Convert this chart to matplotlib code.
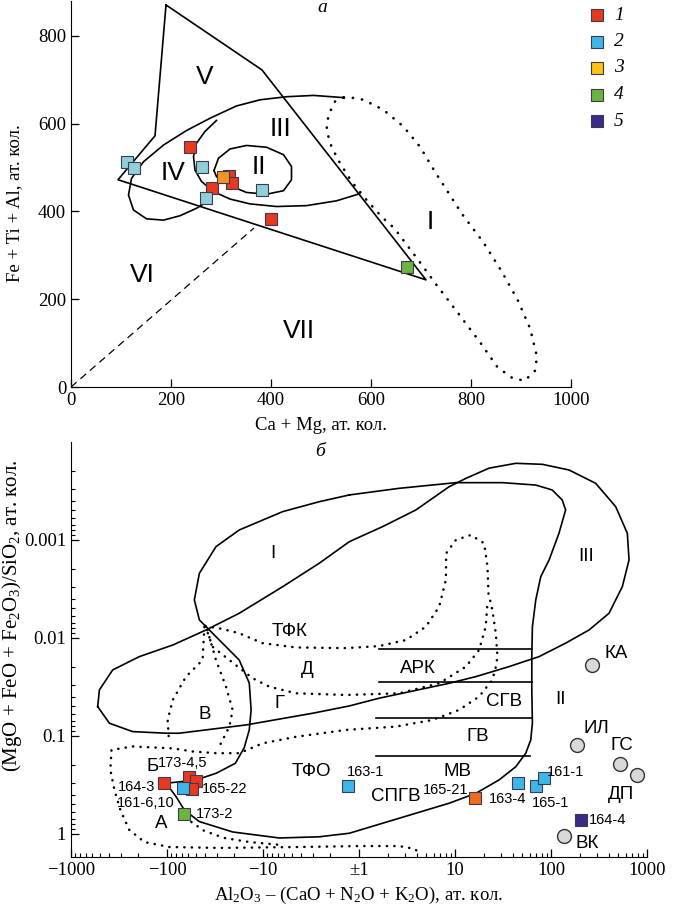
"""
Two classification diagrams: (a) Ca+Mg vs Fe+Ti+Al, (б) module diagram with sample points.
"""
#%% ------------------------------- ###
###           0. Setup              ###
### ------------------------------- ###

import numpy as np
import matplotlib
matplotlib.use('Agg')
import matplotlib.pyplot as plt
from matplotlib.ticker import FixedLocator, NullFormatter

plt.rcParams['font.family'] = ['Liberation Serif', 'DejaVu Serif']
plt.rcParams['mathtext.fontset'] = 'custom'
plt.rcParams['mathtext.rm'] = 'Liberation Serif'
plt.rcParams['mathtext.it'] = 'Liberation Serif:italic'

SANS = ['Liberation Sans', 'DejaVu Sans']

#%% ------------------------------- ###
###           1. Data (a)           ###
### ------------------------------- ###

field_V_x = [190, 382, 710, 94, 168, 190]
field_V_y = [870, 722, 244, 472, 572, 870]

curveA_x = [545, 485, 431, 378, 331, 278, 231, 185, 145, 121, 115, 125, 151, 185, 218, 251, 278, 285]
curveA_y = [659, 664, 661, 654, 640, 612, 584, 551, 513, 475, 437, 403, 383, 380, 390, 407, 426, 445]

curveB_x = [291, 268, 251, 245, 248, 261, 285, 318, 358, 411, 471, 531, 577]
curveB_y = [607, 582, 555, 525, 494, 468, 445, 428, 417, 411, 413, 424, 440]

ellII_x = [286, 295, 318, 351, 391, 425, 441, 441, 425, 391, 351, 315, 291, 286]
ellII_y = [493, 521, 542, 550, 546, 529, 502, 472, 447, 439, 443, 460, 479, 493]

dotI_x = [545, 528, 515, 511, 521, 538, 561, 591, 621, 647, 690, 732, 775, 818, 853, 882, 907,
          928, 932, 918, 893, 861, 825, 782, 728, 698, 665, 625, 585, 551, 545]
dotI_y = [659, 650, 620, 585, 547, 510, 468, 426, 388, 361, 296, 231, 167, 102, 45, 21, 14,
          37, 69, 134, 199, 264, 329, 394, 490, 547, 593, 631, 654, 661, 659]

dash_x = [0, 366]
dash_y = [0, 362]

red_a_x = [238, 281, 315, 321, 399]
red_a_y = [547, 454, 481, 465, 383]
orange_a_x = [303]
orange_a_y = [479]
blue_a_x = [111, 125, 261, 269, 381]
blue_a_y = [513, 498, 500, 430, 449]
green_a_x = [672]
green_a_y = [274]

labels_a = ['V', 'III', 'II', 'IV', 'I', 'VI', 'VII']
labels_a_x = [268, 418, 376, 205, 718, 143, 456]
labels_a_y = [706, 587, 502, 488, 376, 256, 128]

#%% ------------------------------- ###
###           2. Data (б)           ###
### ------------------------------- ###

# solid field outlines
c1_x = [-1.26, 2.62, 10.2, 31.2, 69.4, 103, 131, 142, 121, 95.5, 78.2, 69.4, 64.0, 63.1, 63.1, 64.0,
        61.5, 54.6, 43.0, 28.8, 16.5, 8.69, 3.91, 1.76, -1.26, -2.60, -6.77, -20.7, -46.0, -66.1,
        -80.5, -102, -49.5, -30.6, -19.4, -15.7, -13.9, -13.3, -13.9, -17.7, -28.5, -46.0, -51.9,
        -46.0, -30.9, -17.7, -6.25, -2.60, -1.26]
c1_y = [3.47e-4, 2.97e-4, 2.60e-4, 2.60e-4, 2.75e-4, 3.09e-4, 3.91e-4, 4.94e-4, 8.55e-4, 1.60e-3,
        2.37e-3, 4.09e-3, 7.67e-3, 1.55e-2, 3.39e-2, 7.42e-2, 0.110, 0.150, 0.206, 0.281, 0.385,
        0.486, 0.615, 0.778, 0.984, 1.07, 1.10, 0.955, 0.748, 0.569, 0.416, 0.304, 0.281, 0.240,
        0.190, 0.132, 8.68e-2, 5.43e-2, 2.88e-2, 1.68e-2, 1.05e-2, 6.55e-3, 4.09e-3, 2.19e-3,
        1.17e-3, 7.91e-4, 5.14e-4, 4.07e-4, 3.47e-4]

c2_x = [-527, -506, -368, -194, -87, -39.2, -17.7, -6.25, -2.60, -1.26, 1.76, 3.91, 8.69, 13.0,
        22.6, 43.0, 81.3, 154, 292, 472, 624, 650, 553, 402, 249, 142, 75.1, 36.6, 16.5, 8.69,
        1.62, -1.26, -3.05, -15.0, -74.5, -102, -228, -398, -527]
c2_y = [5.02e-2, 3.39e-2, 2.12e-2, 1.55e-2, 1.18e-2, 8.29e-3, 5.60e-3, 3.00e-3, 1.73e-3, 1.04e-3,
        7.31e-4, 4.94e-4, 2.86e-4, 2.35e-4, 1.85e-4, 1.65e-4, 1.69e-4, 1.93e-4, 2.64e-4, 4.57e-4,
        8.55e-4, 1.60e-3, 3.00e-3, 5.60e-3, 8.29e-3, 1.13e-2, 1.55e-2, 1.96e-2, 2.48e-2, 2.90e-2,
        4.12e-2, 4.94e-2, 5.87e-2, 7.72e-2, 9.38e-2, 9.38e-2, 9.03e-2, 7.42e-2, 5.02e-2]

strip_y = [1.30e-2, 2.83e-2, 6.62e-2, 0.160]
strip_x0 = [1.62, 1.62, 1.50, 1.50]
strip_x1 = [63.1, 63.1, 63.1, 61.0]

# dotted field outlines
dt_x = [-39.9, -26.5, -17.7, -10.1, -4.54, -1.37, 1.62, 3.08, 4.97, 6.84, 8.03, 8.09, 10.2, 14.6,
        20.1, 21.8, 22.3, 24.5, 26.6, 27.7, 26.6, 24.5, 17.8, 11.0, 5.82, 2.42, -1.37, -4.54,
        -10.1, -17.7, -30.6, -54.1, -87, -228, -379, -389, -353, -306, -247, -172, -94.6, -28.5,
        -4.19, 1.0, 2.62, 3.76, 4.30]
dt_y = [7.55e-3, 8.09e-3, 8.96e-3, 1.13e-2, 1.25e-2, 1.27e-2, 1.21e-2, 1.05e-2, 7.67e-3, 4.80e-3,
        2.56e-3, 1.37e-3, 1.00e-3, 8.89e-4, 1.08e-3, 1.87e-3, 3.50e-3, 5.18e-3, 8.96e-3, 1.55e-2,
        1.98e-2, 2.68e-2, 3.97e-2, 5.43e-2, 6.87e-2, 8.03e-2, 8.68e-2, 0.102, 0.119, 0.150,
        0.150, 0.144, 0.134, 0.128, 0.139, 0.222, 0.356, 0.569, 0.910, 1.21, 1.36, 1.39, 1.36,
        1.33, 1.33, 1.42, 1.56]

da_x = [-39.9, -33.5, -22.4, -12.8, -8.61, -4.54, -1.37, 2.62, 6.84, 13.0, 17.8, 20.9, 21.9]
da_y = [7.55e-3, 1.23e-2, 1.68e-2, 2.58e-2, 3.14e-2, 3.67e-2, 3.82e-2, 3.67e-2, 2.90e-2, 1.96e-2,
        1.33e-2, 7.67e-3, 4.09e-3]

bl_x = [-40.8, -42.6, -63.4, -87, -98.5, -95]
bl_y = [7.72e-3, 1.68e-2, 2.48e-2, 4.29e-2, 6.87e-2, 0.119]
br_x = [-38.0, -30.9, -24.3, -20.7, -22.4, -28.5]
br_y = [8.29e-3, 1.68e-2, 3.14e-2, 5.43e-2, 8.03e-2, 0.128]

# short dotted run just under the solid outline near sample 173-2
da2_x = [-55.8, -40.8, -25.3, -13.9, -6.77]
da2_y = [0.755, 0.932, 1.10, 1.21, 1.29]

# reference rocks (grey circles)
rocks = ['КА', 'ИЛ', 'ГС', 'ДП', 'ВК']
rocks_x = [270, 185, 520, 793, 137]
rocks_y = [1.89e-2, 0.124, 0.193, 0.250, 1.05]

# samples
red_b_x = [-108, -59.6, -49.9, -54.9]
red_b_y = [0.304, 0.260, 0.286, 0.350]
blue_b_x = [-67.6, -1.29, 45.7, 69.4, 85.3]
blue_b_y = [0.337, 0.322, 0.304, 0.322, 0.267]
orange_b_x = [16.2]
orange_b_y = [0.432]
green_b_x = [-66.1]
green_b_y = [0.625]
purple_b_x = [207]
purple_b_y = [0.720]

samples = ['173-4,5', '164-3', '161-6,10', '165-22', '173-2', '163-1', '165-21', '163-4', '165-1', '161-1', '164-4']
samples_x = [-68, -210, -165, -25.3, -32.1, 1.18, 8.03, 35.2, 99.5, 142, 386]
samples_y = [0.190, 0.329, 0.486, 0.350, 0.625, 0.231, 0.356, 0.443, 0.486, 0.235, 0.720]

fields_b = ['I', 'III', 'II', 'ТФК', 'Д', 'АРК', 'Г', 'СГВ', 'В', 'ГВ', 'МВ', 'ТФО', 'СПГВ', 'Б', 'А']
fields_b_x = [-7.82, 230, 126, -5.33, -3.44, 4.06, -6.77, 32.5, -40.8, 17.1, 10.6, -3.17, 2.42, -142, -115]
fields_b_y = [1.37e-3, 1.48e-3, 4.29e-2, 8.62e-3, 2.12e-2, 2.04e-2, 4.64e-2, 4.46e-2, 6.10e-2, 0.102, 0.231, 0.231, 0.416, 0.206, 0.778]

rocks_lab_x = [475, 294, 553, 532, 239]
rocks_lab_y = [1.43e-2, 8.34e-2, 0.126, 0.400, 1.26]

legend_labels = ['1', '2', '3', '4', '5']
legend_colors = ['#e53a20', '#41b6e6', '#ffc20e', '#6db33f', '#3d2b8a']

#%% ------------------------------- ###
###           3. Plot               ###
### ------------------------------- ###

W, H = 698, 908
fig = plt.figure(figsize=(W / 100, H / 100), dpi=100)

def fbox(x0, y0, x1, y1):
    return [x0 / W, 1 - y1 / H, (x1 - x0) / W, (y1 - y0) / H]

SQ = dict(marker='s', ms=8.6, mec='#3a3a55', mew=0.8, ls='none')
SOLID = dict(color='black', lw=1.2)
DOT = dict(color='black', lw=1.9, ls=(0, (0.1, 3.4)), dash_capstyle='round')

# --- (a)
ax1 = fig.add_axes(fbox(71, 1, 571, 387))
ax1.plot(field_V_x, field_V_y, **SOLID)
ax1.plot(curveA_x, curveA_y, **SOLID)
ax1.plot(curveB_x, curveB_y, **SOLID)
ax1.plot(ellII_x, ellII_y, **SOLID)
ax1.plot(dotI_x, dotI_y, **DOT)
ax1.plot(dash_x, dash_y, color='black', lw=0.9, ls=(0, (6, 4)))

ax1.plot(red_a_x, red_a_y, mfc='#e8381e', **SQ)
ax1.plot(orange_a_x, orange_a_y, mfc='#f7931e', **SQ)
ax1.plot(blue_a_x, blue_a_y, mfc='#90cfd8', **SQ)
ax1.plot(green_a_x, green_a_y, mfc='#6db33f', **SQ)

for t, x, y in zip(labels_a, labels_a_x, labels_a_y):
    ax1.text(x, y, t, family=SANS, fontsize=19, ha='center', va='center')

ax1.set_xlim(0, 1000)
ax1.set_ylim(0, 879)
ax1.set_xticks([0, 200, 400, 600, 800, 1000])
ax1.set_yticks([0, 200, 400, 600, 800])
ax1.set_xlabel('Ca + Mg, ат. кол.', fontsize=13.5, labelpad=6)
ax1.set_ylabel('Fe + Ti + Al, ат. кол.', fontsize=13.5)
ax1.yaxis.set_label_coords((23 - 71) / 500, (387 - 203) / 386)

# --- (б)
ax2 = fig.add_axes(fbox(71, 442, 647, 857))

def fwd(v):
    v = np.asarray(v, dtype=float)
    return np.sign(v) * np.log10(np.maximum(np.abs(v), 1.0))

def inv(u):
    u = np.asarray(u, dtype=float)
    return np.sign(u) * 10 ** np.abs(u)

ax2.set_xscale('function', functions=(fwd, inv))
ax2.set_yscale('log')
ax2.set_xlim(-1000, 1000)
ax2.set_ylim(1.72, 1e-4)

ax2.plot(c1_x, c1_y, **SOLID)
ax2.plot(c2_x, c2_y, **SOLID)
for y, x0, x1 in zip(strip_y, strip_x0, strip_x1):
    ax2.plot([x0, x1], [y, y], **SOLID)

DOT2 = dict(color='black', lw=1.8, ls=(0, (0.1, 2.9)), dash_capstyle='round')
for xs, ys in [(dt_x, dt_y), (da_x, da_y), (bl_x, bl_y), (br_x, br_y), (da2_x, da2_y)]:
    ax2.plot(xs, ys, **DOT2)

ax2.plot(rocks_x, rocks_y, marker='o', ms=10, mfc='#d9d9d9', mec='#333333', mew=1.0, ls='none')
ax2.plot(red_b_x, red_b_y, mfc='#e8381e', **SQ)
ax2.plot(blue_b_x, blue_b_y, mfc='#3fb6e8', **SQ)
ax2.plot(orange_b_x, orange_b_y, mfc='#f26a1b', **SQ)
ax2.plot(green_b_x, green_b_y, mfc='#6db33f', **SQ)
ax2.plot(purple_b_x, purple_b_y, mfc='#3a2a85', **SQ)

for t, x, y in zip(fields_b, fields_b_x, fields_b_y):
    ax2.text(x, y, t, family=SANS, fontsize=13.5, ha='center', va='center')
for t, x, y in zip(rocks, rocks_lab_x, rocks_lab_y):
    ax2.text(x, y, t, family=SANS, fontsize=13.5, ha='center', va='center')
for t, x, y in zip(samples, samples_x, samples_y):
    ax2.text(x, y, t, family=SANS, fontsize=10.5, ha='center', va='center')

ax2.xaxis.set_major_locator(FixedLocator([-1000, -100, -10, 1, 10, 100, 1000]))
ax2.set_xticklabels(['\u22121000', '\u2212100', '\u221210', '\u00b11', '10', '100', '1000'])
minor = [s * k * d for s in (-1, 1) for d in (1, 10, 100) for k in range(2, 10)]
ax2.xaxis.set_minor_locator(FixedLocator(minor))
ax2.xaxis.set_minor_formatter(NullFormatter())
ax2.set_yticks([0.001, 0.01, 0.1, 1])
ax2.set_yticklabels(['0.001', '0.01', '0.1', '1'])
ax2.yaxis.set_minor_formatter(NullFormatter())

ax2.set_xlabel('Al$_\\mathregular{2}$O$_\\mathregular{3}$ \u2013 (CaO + N$_\\mathregular{2}$O + K$_\\mathregular{2}$O), ат. кол.',
               fontsize=13.5, labelpad=4)
ax2.set_ylabel('(MgO + FeO + Fe$_\\mathregular{2}$O$_\\mathregular{3}$)/SiO$_\\mathregular{2}$, ат. кол.',
               fontsize=15)
ax2.yaxis.set_label_coords((24 - 71) / 576, (857 - 616) / 415)

for ax in (ax1, ax2):
    ax.spines[['top', 'right']].set_visible(False)
    ax.tick_params(which='major', direction='in', length=5.5, width=0.9, labelsize=13.5)
    ax.tick_params(which='minor', direction='in', length=3, width=0.8)
    ax.set_facecolor('none')

# panel letters
fig.text(322 / W, 1 - 8 / H, 'а', style='italic', fontsize=14, ha='center', va='center')
fig.text(320 / W, 1 - 452 / H, 'б', style='italic', fontsize=14, ha='center', va='center')

# legend
for i, (lab, col) in enumerate(zip(legend_labels, legend_colors)):
    yy = 1 - (15 + 26.5 * i) / H
    fig.add_artist(plt.Line2D([597 / W], [yy], marker='s', ms=8.6, mfc=col, mec='#3a3a55',
                              mew=0.8, ls='none', transform=fig.transFigure))
    fig.text(614 / W, yy, lab, style='italic', fontsize=14, ha='left', va='center')

fig.savefig('out.png', dpi=100)
